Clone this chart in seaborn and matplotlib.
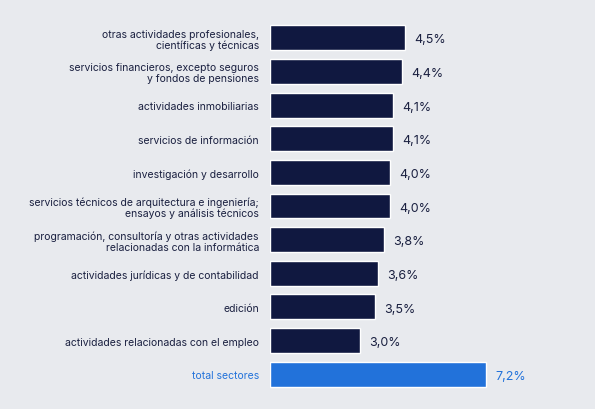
import matplotlib
matplotlib.use("Agg")
import matplotlib.pyplot as plt
import seaborn as sns
import pandas as pd

categories = [
    "otras actividades profesionales,\ncientíficas y técnicas",
    "servicios financieros, excepto seguros\ny fondos de pensiones",
    "actividades inmobiliarias",
    "servicios de información",
    "investigación y desarrollo",
    "servicios técnicos de arquitectura e ingeniería;\nensayos y análisis técnicos",
    "programación, consultoría y otras actividades\nrelacionadas con la informática",
    "actividades jurídicas y de contabilidad",
    "edición",
    "actividades relacionadas con el empleo",
    "total sectores",
]
values = [4.5, 4.4, 4.1, 4.1, 4.0, 4.0, 3.8, 3.6, 3.5, 3.0, 7.2]
labels = ["4,5%", "4,4%", "4,1%", "4,1%", "4,0%", "4,0%", "3,8%", "3,6%", "3,5%", "3,0%", "7,2%"]

bg = "#E8EAEE"
navy = "#101840"
blue = "#2272DA"
colors = [navy] * 10 + [blue]

sns.set_theme(style="white")
plt.rcParams["font.family"] = ["Inter", "DejaVu Sans"]
df = pd.DataFrame({"cat": categories, "val": values})

fig = plt.figure(figsize=(5.95, 4.1), dpi=100, facecolor=bg)
ax = fig.add_axes([270 / 595, 1 - 392 / 410, 325 / 595, 370 / 410], facecolor=bg)
sns.barplot(data=df, y="cat", x="val", hue="cat", palette=colors, legend=False,
            width=0.74, ax=ax, saturation=1)
ax.set_xlim(0, 325 / 30)
ax.set_ylim(10.5, -0.5)
ax.set_xlabel("")
ax.set_ylabel("")
ax.set_xticks([])
for s in ax.spines.values():
    s.set_visible(False)
ax.tick_params(axis="y", length=0, pad=8)
for i, t in enumerate(ax.get_yticklabels()):
    t.set_fontsize(7.5)
    t.set_color(blue if i == 10 else "#1A2040")
    t.set_ha("right")
    t.set_linespacing(1.1)
for i, (v, l) in enumerate(zip(values, labels)):
    ax.text(v + 0.3, i + 0.05, l, va="center", ha="left", fontsize=9,
            color=blue if i == 10 else "#1A2040")
fig.savefig("out.png", dpi=100, facecolor=bg)
